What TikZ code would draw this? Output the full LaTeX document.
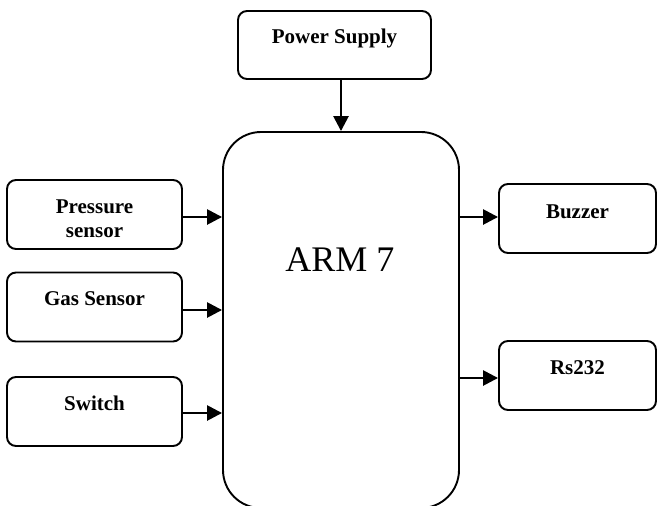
\documentclass[tikz,border=0pt]{standalone}
\usepackage{fontspec}
\setmainfont{Liberation Serif}
\usetikzlibrary{arrows.meta}
\begin{document}
\begin{tikzpicture}[x=1pt,y=-1pt,
  box/.style={draw, line width=1.9pt, rounded corners=9pt, minimum width=175pt, minimum height=69pt, inner sep=0pt},
  lbl/.style={font=\bfseries\fontsize{21}{24}\selectfont, align=center, inner sep=0pt},
  conn/.style={line width=2.6pt, -{Triangle[length=15pt,width=15pt]}}]
\useasboundingbox (0,0) rectangle (657,506);
\clip (0,0) rectangle (657,506);
% boxes
\node[box, minimum width=193pt, minimum height=68pt] (power) at (334.5,45) {};
\node[box, minimum width=236pt, minimum height=376pt, rounded corners=38pt] (arm) at (341,320) {};
\node[box] (pressure) at (94.5,214.5) {};
\node[box] (gas) at (94.5,307) {};
\node[box] (switch) at (94.5,411.5) {};
\node[box, minimum width=157pt] (buzzer) at (577.5,218.5) {};
\node[box, minimum width=157pt] (rs) at (577.5,375.5) {};
% labels
\node[lbl] (tpower) at (334.5,38) {Power Supply};
\node[lbl] (tpressure) at (94.5,219) {Pressure\\sensor};
\node[lbl] (tgas) at (94.5,299) {Gas Sensor};
\node[lbl] (tswitch) at (94.5,403) {Switch};
\node[lbl] (tbuzzer) at (577.5,212) {Buzzer};
\node[lbl] (trs) at (577.5,368) {Rs232};
\node[font=\fontsize{36}{40}\selectfont, inner sep=0pt] (tarm) at (340,260) {ARM 7};
% connectors
\draw[conn] (arm.north |- power.south) -- (arm.north);
\draw[conn] ([yshift=-2.5pt]pressure.east) -- ([yshift=-2.5pt]arm.west |- pressure.east);
\draw[conn] ([yshift=-3pt]gas.east) -- ([yshift=-3pt]arm.west |- gas.east);
\draw[conn] ([yshift=-1.5pt]switch.east) -- ([yshift=-1.5pt]arm.west |- switch.east);
\draw[conn] ([yshift=1.5pt]arm.east |- buzzer.west) -- ([yshift=1.5pt]buzzer.west);
\draw[conn] ([yshift=-2.5pt]arm.east |- rs.west) -- ([yshift=-2.5pt]rs.west);
\end{tikzpicture}
\end{document}
